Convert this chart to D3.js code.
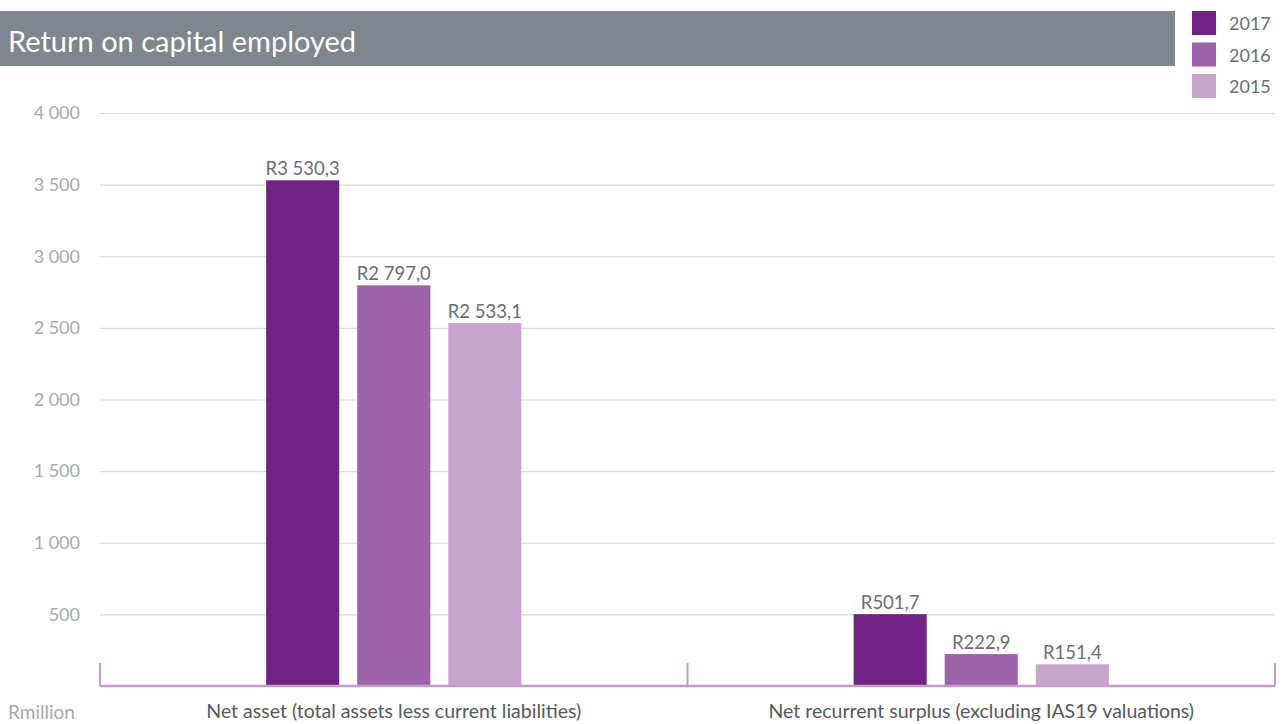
<!DOCTYPE html>
<html>
<head>
<meta charset="utf-8">
<script src="https://cdn.jsdelivr.net/npm/d3@7"></script>
<style>
  html, body { margin: 0; padding: 0; background: #fff; }
  svg { display: block; font-family: "Lato", "Open Sans", sans-serif; }
</style>
</head>
<body>
<svg id="chart" width="1282" height="724"></svg>
<script>
const categories = ["Net asset (total assets less current liabilities)", "Net recurrent surplus (excluding IAS19 valuations)"];
const years = ["2017", "2016", "2015"];
const values2017 = [3530.3, 501.7];
const values2016 = [2797.0, 222.9];
const values2015 = [2533.1, 151.4];
const yTicks = [500, 1000, 1500, 2000, 2500, 3000, 3500, 4000];
const title = "Return on capital employed";
const unitLabel = "Rmillion";

(function () {
const seriesValues = { "2017": values2017, "2016": values2016, "2015": values2015 };
const colors = { "2017": "#722282", "2016": "#9c63a8", "2015": "#c8a5cd" };

const loc = d3.formatLocale({ decimal: ",", thousands: " ", grouping: [3], currency: ["R", ""] });
const tickFmt = loc.format(",d");
const valFmt = loc.format("$,.1f");

const svg = d3.select("#chart");
const mLeft = 100, mRight = 1275, mTop = 113, mBottom = 686;

const y = d3.scaleLinear().domain([0, 4000]).range([mBottom, mTop]);
const x0 = d3.scaleBand().domain(categories).range([mLeft, mRight]).padding(0);
const x1 = d3.scaleBand().domain(years).range([0, x0.bandwidth()]).paddingInner(0.198).paddingOuter(1.824);

// title bar
svg.append("rect").attr("x", 0).attr("y", 11).attr("width", 1175).attr("height", 55).attr("fill", "#7f868d");
svg.append("text").attr("x", 8).attr("y", 52).attr("fill", "#fff").attr("font-size", 29).text(title);

// legend
const lg = svg.append("g");
years.forEach((yr, i) => {
  const yy = 11 + i * 31.5;
  lg.append("rect").attr("x", 1192).attr("y", yy).attr("width", 24).attr("height", 24).attr("fill", colors[yr]);
  lg.append("text").attr("x", 1229).attr("y", yy + 19).attr("font-size", 18).attr("fill", "#6d6e71").text(yr);
});

// grid + y axis
const yAxis = d3.axisLeft(y).tickValues(yTicks).tickFormat(tickFmt).tickSize(-(mRight - mLeft)).tickPadding(20);
const ga = svg.append("g").attr("transform", `translate(${mLeft},0)`).call(yAxis);
ga.select(".domain").remove();
ga.selectAll(".tick line").attr("stroke", "#d9d9d9").attr("stroke-width", 1.2);
ga.selectAll(".tick text").attr("fill", "#a7a9ac").attr("font-size", 18).attr("font-family", "Lato, 'Open Sans', sans-serif");

// bars
const groups = svg.append("g").selectAll("g").data(categories).join("g")
  .attr("transform", d => `translate(${x0(d)},0)`);
groups.selectAll("rect").data((d, i) => years.map(yr => ({ yr, v: seriesValues[yr][i] }))).join("rect")
  .attr("x", d => x1(d.yr)).attr("width", x1.bandwidth())
  .attr("y", d => y(d.v)).attr("height", d => y(0) - y(d.v))
  .attr("fill", d => colors[d.yr]);
groups.selectAll("text").data((d, i) => years.map(yr => ({ yr, v: seriesValues[yr][i] }))).join("text")
  .attr("x", d => x1(d.yr) + x1.bandwidth() / 2).attr("y", d => y(d.v) - 5)
  .attr("text-anchor", "middle").attr("font-size", 18.5).attr("fill", "#6d6e71")
  .text(d => valFmt(d.v));

// bottom axis
const xAxis = d3.axisBottom(x0).tickSize(0).tickPadding(0);
const gx = svg.append("g").attr("transform", `translate(0,${mBottom})`).call(xAxis);
gx.select(".domain").remove();
gx.selectAll(".tick text").attr("fill", "#58595b").attr("font-size", 19.5).attr("font-family", "Lato, 'Open Sans', sans-serif").attr("dy", null).attr("y", 32);
svg.append("line").attr("x1", mLeft).attr("x2", mRight).attr("y1", mBottom).attr("y2", mBottom)
  .attr("stroke", "#c49bca").attr("stroke-width", 2.5);
const sep = [mLeft, ...categories.slice(1).map(c => x0(c)), mRight];
svg.append("g").selectAll("line").data(sep).join("line")
  .attr("x1", d => d).attr("x2", d => d).attr("y1", mBottom - 23).attr("y2", mBottom)
  .attr("stroke", "#c49bca").attr("stroke-width", 2);

svg.append("text").attr("x", 8).attr("y", 719).attr("font-size", 19).attr("fill", "#a7a9ac").text(unitLabel);
})();
</script>
</body>
</html>
